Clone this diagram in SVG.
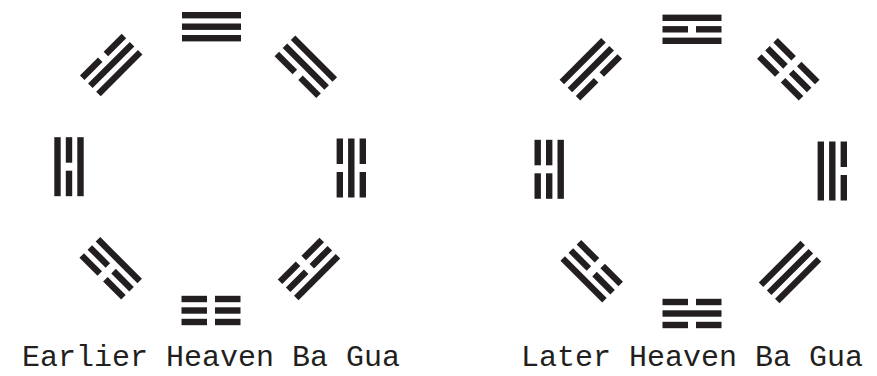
<svg xmlns="http://www.w3.org/2000/svg" xmlns:xlink="http://www.w3.org/1999/xlink" width="877" height="376" viewBox="0 0 877 376">
<style>
.ln{fill:#231f20}
.lbl{font-family:"Liberation Mono","Courier New",monospace;font-size:30px;fill:#231f20;text-anchor:middle}
</style>
<defs>
<g id="sol" class="ln"><rect x="-29.5" y="-3.2" width="59" height="6.4"/></g>
<g id="brk" class="ln"><rect x="-29.5" y="-3.2" width="25.5" height="6.4"/><rect x="4" y="-3.2" width="25.5" height="6.4"/></g>
</defs>
<rect width="877" height="376" fill="#fff"/>
<g id="earlier">
<g id="e-qian" transform="translate(211.5,26.7)"><use href="#sol" y="11.5"/><use href="#sol"/><use href="#sol" y="-11.5"/></g>
<g id="e-dui" transform="translate(111.2,65) rotate(-45)"><use href="#sol" y="11.5"/><use href="#sol"/><use href="#brk" y="-11.5"/></g>
<g id="e-xun" transform="translate(305.8,66.7) rotate(45)"><use href="#brk" y="11.5"/><use href="#sol"/><use href="#sol" y="-11.5"/></g>
<g id="e-li" transform="translate(69,166.7) rotate(-90)"><use href="#sol" y="11.5"/><use href="#brk"/><use href="#sol" y="-11.5"/></g>
<g id="e-kan" transform="translate(351.3,168) rotate(90)"><use href="#brk" y="11.5"/><use href="#sol"/><use href="#brk" y="-11.5"/></g>
<g id="e-zhen" transform="translate(110.7,268.3) rotate(-135)"><use href="#sol" y="11.5"/><use href="#brk"/><use href="#brk" y="-11.5"/></g>
<g id="e-gen" transform="translate(309,269) rotate(135)"><use href="#brk" y="11.5"/><use href="#brk"/><use href="#sol" y="-11.5"/></g>
<g id="e-kun" transform="translate(211,310.5) rotate(180)"><use href="#brk" y="11.5"/><use href="#brk"/><use href="#brk" y="-11.5"/></g>
<text class="lbl" x="211" y="366">Earlier Heaven Ba Gua</text>
</g>
<g id="later">
<g id="l-li" transform="translate(692,29.3)"><use href="#sol" y="11.5"/><use href="#brk"/><use href="#sol" y="-11.5"/></g>
<g id="l-xun" transform="translate(590.8,69.2) rotate(-45)"><use href="#brk" y="11.5"/><use href="#sol"/><use href="#sol" y="-11.5"/></g>
<g id="l-kun" transform="translate(788.3,69.2) rotate(45)"><use href="#brk" y="11.5"/><use href="#brk"/><use href="#brk" y="-11.5"/></g>
<g id="l-zhen" transform="translate(549.2,169.3) rotate(-90)"><use href="#sol" y="11.5"/><use href="#brk"/><use href="#brk" y="-11.5"/></g>
<g id="l-dui" transform="translate(832.3,171) rotate(90)"><use href="#sol" y="11.5"/><use href="#sol"/><use href="#brk" y="-11.5"/></g>
<g id="l-gen" transform="translate(591.7,271.3) rotate(-135)"><use href="#brk" y="11.5"/><use href="#brk"/><use href="#sol" y="-11.5"/></g>
<g id="l-qian" transform="translate(790,272) rotate(135)"><use href="#sol" y="11.5"/><use href="#sol"/><use href="#sol" y="-11.5"/></g>
<g id="l-kan" transform="translate(692,313.5) rotate(180)"><use href="#brk" y="11.5"/><use href="#sol"/><use href="#brk" y="-11.5"/></g>
<text class="lbl" x="692" y="366">Later Heaven Ba Gua</text>
</g>
</svg>
